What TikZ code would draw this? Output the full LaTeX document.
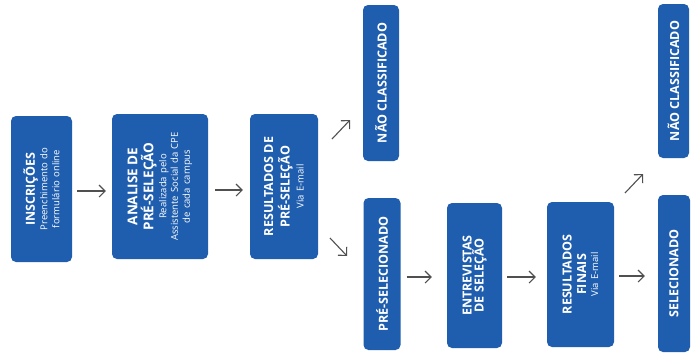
\documentclass[tikz,border=0pt]{standalone}
\usepackage{fontspec}
\setmainfont{Open Sans}
\usetikzlibrary{arrows.meta}
\definecolor{boxblue}{RGB}{31,94,175}
\definecolor{arrgray}{RGB}{80,80,80}
\tikzset{
  box/.style={fill=boxblue, rounded corners=5pt, rotate=90, text=white, align=center, inner sep=0pt, text width=140pt},
  arr/.style={draw=arrgray, line width=1.1pt, -{Straight Barb[length=6pt,width=12pt]}},
}
\newcommand{\ttl}{\fontsize{12.5}{14.5}\selectfont\bfseries}
\newcommand{\ttlm}{\fontsize{12.5}{16.5}\selectfont\bfseries}
\newcommand{\ttlb}{\fontsize{13.5}{16}\selectfont\bfseries}
\newcommand{\subt}{\fontsize{9.5}{11.5}\selectfont\mdseries}
\begin{document}
\begin{tikzpicture}[x=1pt,y=-1pt]
\useasboundingbox[fill=white] (0,0) rectangle (691,354);
\node[box, minimum width=146pt, minimum height=61pt] (b1) at (41.5,189)
  {\ttl INSCRIÇÕES\\[1pt]\subt Preenchimento do\\formulário online};
\node[box, minimum width=145pt, minimum height=96pt] (b2) at (160,186.5)
  {\ttlb ANALISE DE\\PRÉ-SELEÇÃO\\[1.5pt]\subt Realizada pelo\\Assistente Social da CPE\\de cada campus};
\node[box, minimum width=145pt, minimum height=68pt] (b3) at (284,186.5)
  {\ttlm RESULTADOS DE\\PRÉ-SELEÇÃO\\[2pt]\subt Via E-mail};
\node[box, minimum width=156pt, minimum height=36pt] (n1) at (381,83)
  {\ttl NÃO CLASSIFICADO};
\node[box, minimum width=152pt, minimum height=37pt] (p1) at (382,274)
  {\ttl PRÉ-SELECIONADO};
\node[box, minimum width=145pt, minimum height=55pt] (e1) at (474.5,275.5)
  {\ttl ENTREVISTAS\\DE SELEÇÃO};
\node[box, minimum width=145pt, minimum height=67pt] (r2) at (580.5,274.5)
  {\ttl RESULTADOS\\FINAIS\\\subt Via E-mail};
\node[box, minimum width=157pt, minimum height=32pt] (s1) at (674,273.5)
  {\ttl SELECIONADO};
\node[box, minimum width=154pt, minimum height=31pt] (n2) at (673.5,81)
  {\ttl NÃO CLASSIFICADO};
% straight arrows
\draw[arr, shorten <=5pt, shorten >=6pt] ([yshift=-2pt]b1.south) -- ([yshift=-2pt]b2.north |- b1.south);
\draw[arr, shorten <=7pt, shorten >=7pt] ([yshift=-3.5pt]b2.south) -- ([yshift=-3.5pt]b3.north);
\draw[arr, shorten <=6pt, shorten >=15pt] ([yshift=-3pt]p1.south) -- ([yshift=-3pt]p1.south -| e1.north);
\draw[arr, shorten <=5pt, shorten >=11pt] ([yshift=-1.5pt]e1.south) -- ([yshift=-1.5pt]e1.south -| r2.north);
\draw[arr, shorten <=5pt, shorten >=13pt] ([yshift=-1.5pt]r2.south) -- ([yshift=-1.5pt]r2.south -| s1.north);
% diagonal arrows
\coordinate (d1s) at (332,139); \coordinate (d1e) at (350,120);
\coordinate (d2s) at (330,238); \coordinate (d2e) at (347,256);
\coordinate (d3s) at (625,193); \coordinate (d3e) at (643,174);
\draw[arr] (d1s) -- (d1e);
\draw[arr] (d2s) -- (d2e);
\draw[arr] (d3s) -- (d3e);
\end{tikzpicture}
\end{document}
